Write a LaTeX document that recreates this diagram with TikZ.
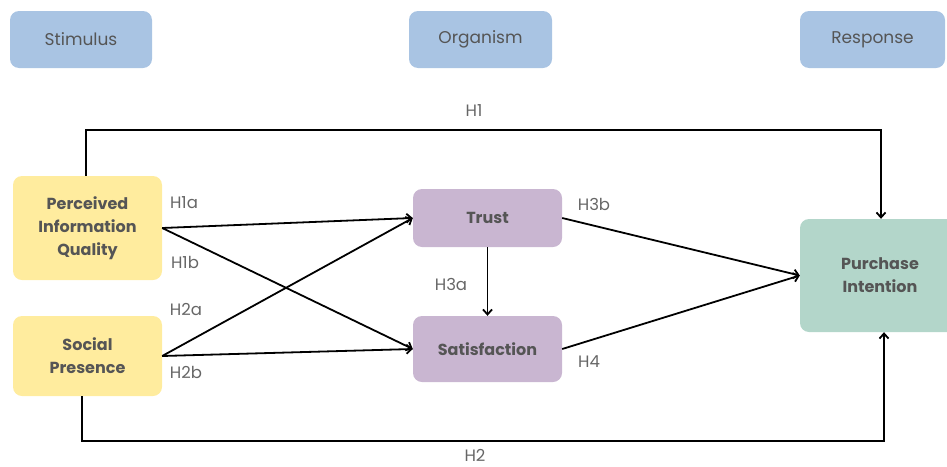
\documentclass[tikz,border=0pt]{standalone}
\usepackage{fontspec}
\setmainfont{Poppins}
\usetikzlibrary{arrows.meta}
\definecolor{hdr}{HTML}{A9C4E3}
\definecolor{yel}{HTML}{FFEC9E}
\definecolor{pur}{HTML}{C9B6D1}
\definecolor{grn}{HTML}{B3D6CA}
\definecolor{txt}{HTML}{555555}
\definecolor{lbl}{HTML}{666666}
\tikzset{
  box/.style={rounded corners=9pt, inner sep=0pt, align=center, text=txt, font=\fontsize{17}{23}\selectfont},
  hbox/.style={box, fill=hdr},
  sbox/.style={box, fill=yel, font=\fontsize{16}{23}\selectfont\bfseries},
  obox/.style={box, fill=pur, font=\fontsize{16}{23}\selectfont\bfseries},
  rbox/.style={box, fill=grn, font=\fontsize{16}{23}\selectfont\bfseries},
  conn/.style={draw=black, line width=1.8pt, -{Straight Barb[length=5pt,width=9pt,line width=1.8pt]}},
  hl/.style={text=lbl, font=\fontsize{16.5}{20}\selectfont, inner sep=0pt}
}
\begin{document}
\begin{tikzpicture}[x=1pt,y=-1pt]
\useasboundingbox (0,0) rectangle (947,466);
% header boxes
\node[hbox, minimum width=142pt, minimum height=57pt] (stim) at (81,39.5) {Stimulus};
\node[hbox, minimum width=143pt, minimum height=57pt] (org) at (480.5,39.5) {Organism};
\node[hbox, minimum width=145pt, minimum height=57pt] (resp) at (872.5,39.5) {Response};
% main boxes
\node[sbox, minimum width=149pt, minimum height=104pt] (piq) at (87.5,228) {Perceived\\Information\\Quality};
\node[sbox, minimum width=149pt, minimum height=80pt] (sp) at (87.5,356) {Social\\Presence};
\node[obox, minimum width=149pt, minimum height=58pt] (trust) at (487.5,218) {Trust};
\node[obox, minimum width=149pt, minimum height=66pt] (sat) at (487.5,349) {Satisfaction};
\node[rbox, minimum width=160pt, minimum height=113pt] (pi) at (880,275.5) {Purchase\\Intention};
% coordinates
\coordinate (h1a) at (86,130);
\coordinate (h1b) at (881,130);
\coordinate (h2a) at (82,441);
\coordinate (h2b) at (884,441);
% connectors
\draw[conn] (piq.north -| h1a) -- (h1a) -- (h1b) -- (h1b |- pi.north);
\draw[conn] (sp.south -| h2a) -- (h2a) -- (h2b) -- (h2b |- pi.south);
\draw[conn] (piq.east) -- (trust.west);
\draw[conn] (piq.east) -- (sat.west);
\draw[conn] (sp.east) -- (trust.west);
\draw[conn] (sp.east) -- (sat.west);
\draw[conn] (trust.south) -- (sat.north);
\draw[conn] (trust.east) -- (pi.west);
\draw[conn] (sat.east) -- (pi.west);
% labels
\node[hl] (lh1) at (474,111) {H1};
\node[hl] (lh2) at (475,455) {H2};
\node[hl] (lh1a) at (184,203) {H1a};
\node[hl] (lh1b) at (185,262) {H1b};
\node[hl] (lh2a) at (186,309) {H2a};
\node[hl] (lh2b) at (186,372) {H2b};
\node[hl] (lh3a) at (451,284) {H3a};
\node[hl] (lh3b) at (594,204) {H3b};
\node[hl] (lh4) at (589,362) {H4};
\end{tikzpicture}
\end{document}
